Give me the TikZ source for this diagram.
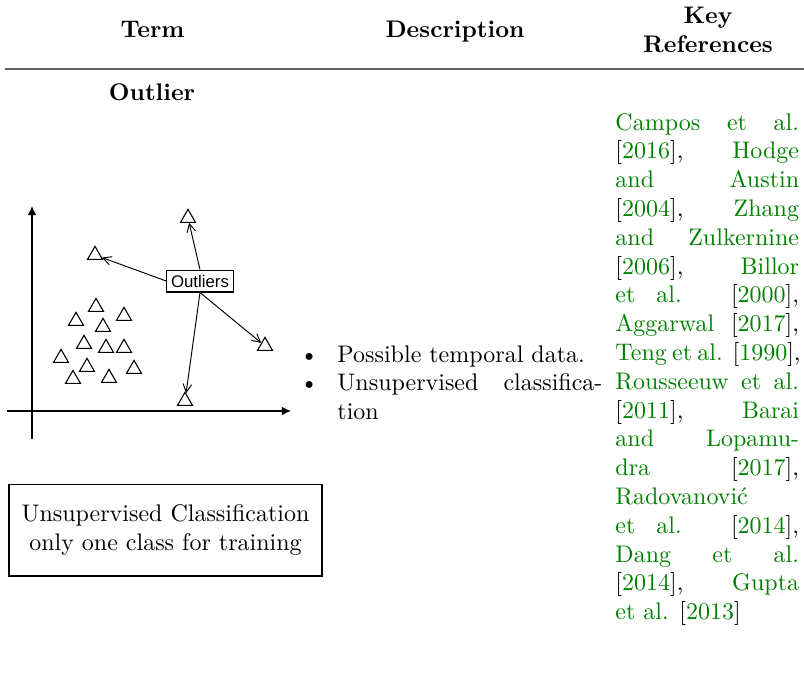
\documentclass[tikz,border=0pt]{standalone}
\usepackage{fontspec}
\newfontfamily\labelsans{Liberation Sans}
\usetikzlibrary{shapes.geometric,arrows.meta}
\definecolor{citegreen}{rgb}{0,0.5,0}
\newcommand\cy[1]{\textcolor{citegreen}{#1}}
\newlength\refw
\setlength\refw{76.5pt}
\newcommand\jline[1]{\hbox{\makebox[\refw][s]{#1}}}
\newcommand\rline[1]{\hbox{#1}}
\begin{document}
\begin{tikzpicture}[x=0.41667pt,y=-0.41667pt,
  head/.style={font=\bfseries, inner sep=0pt, anchor=base},
  tri/.style={draw, regular polygon, regular polygon sides=3,
    minimum size=7.2pt, inner sep=0pt, line width=0.45pt},
  axis/.style={line width=0.5pt, -{Latex[length=3.8pt,width=3.6pt]}},
  ptr/.style={line width=0.4pt, -{Straight Barb[length=3.4pt,width=3.6pt]}},
  tag/.style={draw, line width=0.45pt, font=\labelsans\fontsize{7}{8}\selectfont,
    inner xsep=1.8pt, inner ysep=2pt},
  body/.style={inner sep=0pt, anchor=base west}]
\useasboundingbox (0,0) rectangle (804,672);

% table header and rule
\node[head] (hterm) at (152.5,37) {Term};
\node[head] (hdesc) at (455,37) {Description};
\node[head] (hkey) at (708,23) {Key};
\node[head] (href) at (708,52) {References};
\coordinate (rl) at (5,69);
\coordinate (rr) at (804,69);
\draw[line width=0.8pt, black!60] (rl) -- (rr);
\node[head] (term) at (152,100) {Outlier};

% scatter plot axes
\coordinate (xs) at (7,411);
\coordinate (xe) at (291,411);
\coordinate (ys) at (32,439);
\coordinate (ye) at (32,206);
\draw[axis] (xs) -- (xe);
\draw[axis] (ys) -- (ye);

% regular points
\foreach \n/\p in {c1/{96,307}, c2/{76,321}, c3/{124,316}, c4/{103,327},
  c5/{84,344}, c6/{106,348}, c7/{124,348}, c8/{61,358}, c9/{87,367},
  c10/{134,369}, c11/{73,379}, c12/{109,378}}
  \node[tri] (\n) at (\p) {};

% outlying points
\node[tri] (t1) at (188,218) {};
\node[tri] (t2) at (95,255) {};
\node[tri] (t3) at (265,346) {};
\node[tri] (t4) at (185,401) {};

\node[tag] (out) at (200,281) {Outliers};
\draw[ptr] (out.north) -- (t1);
\draw[ptr] (out.west) -- (t2);
\draw[ptr] (out.south) -- (t3);
\draw[ptr] (out.south) -- (t4);

% caption box
\node[draw, line width=0.45pt, minimum width=130.4pt, minimum height=38.3pt,
  align=center] (cls) at (165.5,530)
  {Unsupervised Classification\\only one class for training};

% description column
\node[body] (desc) at (337,362) {\vtop{\baselineskip=12pt
  \hbox{\llap{\textbullet\hspace{7.9pt}}Possible temporal data.}
  \hbox{\llap{\textbullet\hspace{7.9pt}}\makebox[110.4pt][s]{Unsupervised classifica-}}
  \hbox{tion}}};

% reference column
\node[body] (refs) at (615,130) {\vtop{\baselineskip=12pt
  \jline{\cy{Campos} \cy{et} \cy{al.}}
  \jline{[\cy{2016}], \cy{Hodge}}
  \jline{\cy{and} \cy{Austin}}
  \jline{[\cy{2004}], \cy{Zhang}}
  \jline{\cy{and} \cy{Zulkernine}}
  \jline{[\cy{2006}], \cy{Billor}}
  \jline{\cy{et} \cy{al.} [\cy{2000}],}
  \jline{\cy{Aggarwal} [\cy{2017}],}
  \jline{\cy{Teng} \cy{et} \cy{al.} [\cy{1990}],}
  \jline{\cy{Rousseeuw} \cy{et} \cy{al.}}
  \jline{[\cy{2011}], \cy{Barai}}
  \jline{\cy{and} \cy{Lopamu-}}
  \jline{\cy{dra} [\cy{2017}],}
  \rline{\cy{Radovanović}}
  \jline{\cy{et} \cy{al.} [\cy{2014}],}
  \jline{\cy{Dang} \cy{et} \cy{al.}}
  \jline{[\cy{2014}], \cy{Gupta}}
  \rline{\cy{et al.} [\cy{2013}]}}};
\end{tikzpicture}
\end{document}
